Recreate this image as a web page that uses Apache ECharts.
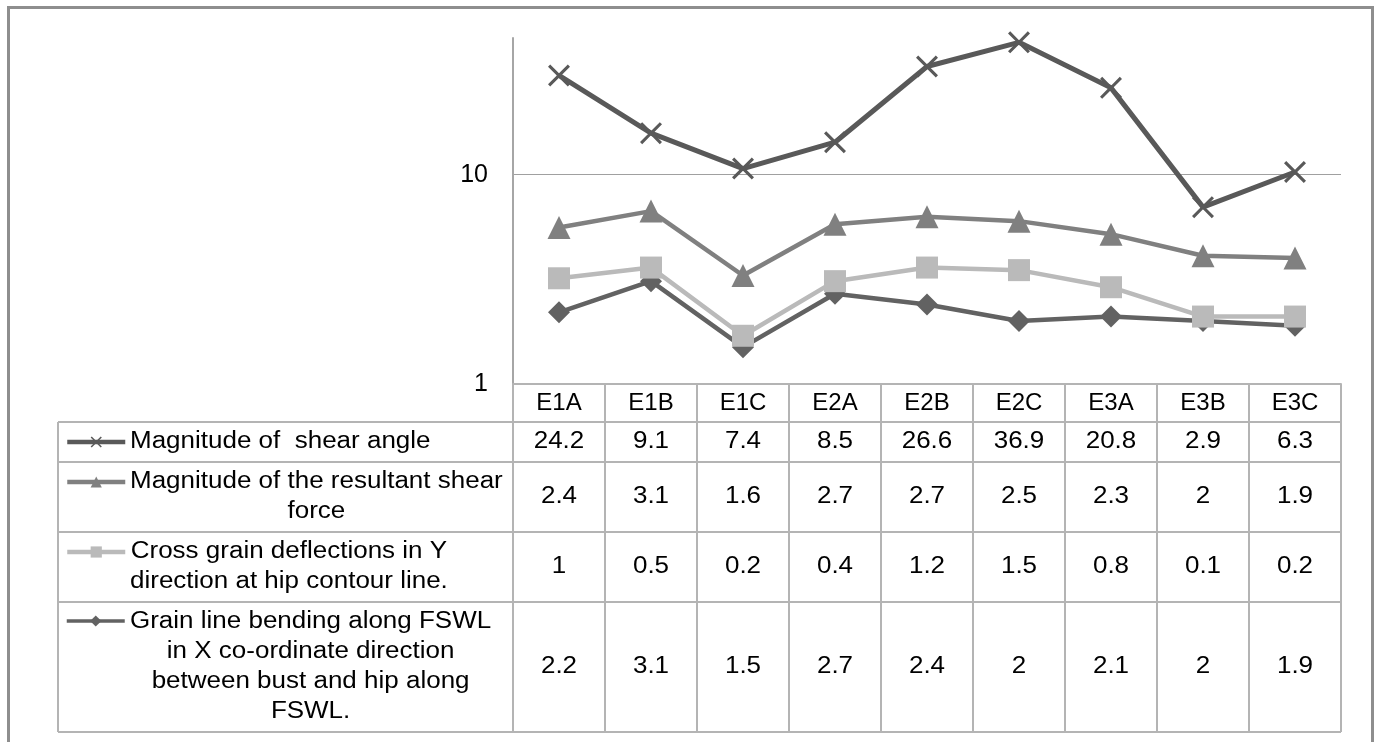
<!DOCTYPE html>
<html lang="en">

<head>
    <meta charset="UTF-8">
    <title>Document</title>
    <style>
        html, body { margin: 0; padding: 0; background: #fff; }
    </style>
</head>

<body>
    <div id="main" style="width: 1378px; height: 742px"></div>
    <script src="https://cdn.jsdelivr.net/npm/echarts@6/dist/echarts.min.js"></script>
    <script type="text/javascript">
        // data
        var categories = ['E1A', 'E1B', 'E1C', 'E2A', 'E2B', 'E2C', 'E3A', 'E3B', 'E3C'];
        var shearAngle = [24.2, 9.1, 7.4, 8.5, 26.6, 36.9, 20.8, 2.9, 6.3];
        var shearForce = [2.4, 3.1, 1.6, 2.7, 2.7, 2.5, 2.3, 2, 1.9];
        var crossGrain = [1, 0.5, 0.2, 0.4, 1.2, 1.5, 0.8, 0.1, 0.2];
        var grainLine = [2.2, 3.1, 1.5, 2.7, 2.4, 2, 2.1, 2, 1.9];
        var seriesNames = [
            'Magnitude of  shear angle',
            'Magnitude of the resultant shear force',
            'Cross grain deflections in Y direction at hip contour line.',
            'Grain line bending along FSWL in X co-ordinate direction between bust and hip along FSWL.'
        ];
        var rowLabels = [
            'Magnitude of  shear angle',
            'Magnitude of the resultant shear\nforce',
            'Cross grain deflections in Y\ndirection at hip contour line.',
            'Grain line bending along FSWL\nin X co-ordinate direction\nbetween bust and hip along\nFSWL.'
        ];
        var tableRows = [shearAngle, shearForce, crossGrain, grainLine];

        // table layout (row edges in px)
        var rowEdges = [422, 462, 532, 602, 732];
        var tableLeft = 58, tableRight = 1341, plotLeft = 513;
        var SX = 1.13;
        var FONT = 'Liberation Sans';
        var lineC = '#b4b4b4';

        var crossPath = 'path://M0,1L1,0L5,4L9,0L10,1L6,5L10,9L9,10L5,6L1,10L0,9L4,5Z';

        var myChart = echarts.init(document.getElementById('main'));

        function mkSeries(name, data, color, symbol, size, width) {
            return {
                name: name,
                type: 'line',
                stack: 'total',
                data: data,
                symbol: symbol,
                symbolSize: size,
                showAllSymbol: true,
                color: color,
                itemStyle: { color: color },
                lineStyle: { color: color, width: width },
                emphasis: { disabled: true }
            };
        }

        var legendTops = [442, 482, 552, 621];
        var legendLineW = [4.5, 4.5, 4.5, 3.5];
        var legends = legendTops.map(function (t, i) {
            return {
                data: [seriesNames[i]],
                left: 65,
                top: t - 7,
                padding: 0,
                itemWidth: 58,
                itemHeight: 14,
                selectedMode: false,
                lineStyle: { width: legendLineW[i] },
                formatter: function () { return ''; }
            };
        });

        var option = {
            animation: false,
            backgroundColor: '#fff',
            grid: { left: plotLeft, right: 1378 - tableRight, top: 38, bottom: 742 - 384, outerBoundsMode: 'none' },
            legend: legends,
            xAxis: {
                type: 'category',
                data: categories,
                boundaryGap: true,
                axisLine: { show: true, lineStyle: { color: lineC, width: 2 } },
                axisTick: { show: true, interval: 0, length: 732 - 384, lineStyle: { color: lineC, width: 2 } },
                axisLabel: { color: '#000', fontSize: 24, fontFamily: FONT, margin: 7, lineHeight: 24, interval: 0 },
                splitLine: { show: false }
            },
            yAxis: {
                type: 'log',
                logBase: 10,
                min: 1,
                max: 45,
                axisLine: { show: true, lineStyle: { color: '#a6a6a6', width: 2 } },
                axisTick: { show: false },
                axisLabel: { color: '#000', fontSize: 25, fontFamily: FONT, margin: 25, showMaxLabel: false },
                splitLine: { show: true, showMinLine: false, showMaxLine: false, lineStyle: { color: '#a0a0a0', width: 1 } }
            },
            series: [
                mkSeries(seriesNames[3], grainLine, '#626262', 'diamond', 22, 4.5),
                mkSeries(seriesNames[2], crossGrain, '#bababa', 'rect', 22, 4.5),
                mkSeries(seriesNames[1], shearForce, '#808080', 'triangle', 23, 4.5),
                mkSeries(seriesNames[0], shearAngle, '#595959', crossPath, 22, 5)
            ]
        };
        myChart.setOption(option);

        // data table drawn from the arrays, columns from the x axis
        var ctx = document.createElement('canvas').getContext('2d');
        ctx.font = '23px "' + FONT + '"';
        function textW(s) { return ctx.measureText(s).width * SX; }

        var colX = categories.map(function (c) {
            return myChart.convertToPixel({ xAxisIndex: 0 }, c);
        });

        var g = [];
        // outer frame
        g.push({
            type: 'rect', shape: { x: 8.5, y: 7.5, width: 1364, height: 760 },
            style: { fill: 'none', stroke: '#8e8e8e', lineWidth: 3 }, silent: true
        });
        rowEdges.forEach(function (y) {
            g.push({
                type: 'line', shape: { x1: tableLeft, y1: y, x2: tableRight, y2: y },
                style: { stroke: lineC, lineWidth: 2 }, silent: true
            });
        });
        g.push({
            type: 'line', shape: { x1: tableLeft, y1: rowEdges[0], x2: tableLeft, y2: rowEdges[4] },
            style: { stroke: lineC, lineWidth: 2 }, silent: true
        });

        tableRows.forEach(function (vals, r) {
            var cy = (rowEdges[r] + rowEdges[r + 1]) / 2;
            var lines = rowLabels[r].split('\n');
            var maxW = 0;
            lines.forEach(function (l) { maxW = Math.max(maxW, textW(l)); });
            g.push({
                type: 'text', x: 130 + maxW / 2, y: cy, scaleX: SX, silent: true,
                style: {
                    text: rowLabels[r], fill: '#000', fontSize: 23, fontFamily: FONT, lineHeight: 30,
                    align: 'center', verticalAlign: 'middle', textAlign: 'center', textVerticalAlign: 'middle'
                }
            });
            vals.forEach(function (v, i) {
                g.push({
                    type: 'text', x: colX[i], y: cy, scaleX: SX, silent: true,
                    style: {
                        text: String(v), fill: '#000', fontSize: 23, fontFamily: FONT,
                        align: 'center', verticalAlign: 'middle', textAlign: 'center', textVerticalAlign: 'middle'
                    }
                });
            });
        });

        myChart.setOption({ graphic: g });
    </script>

</body>

</html>
